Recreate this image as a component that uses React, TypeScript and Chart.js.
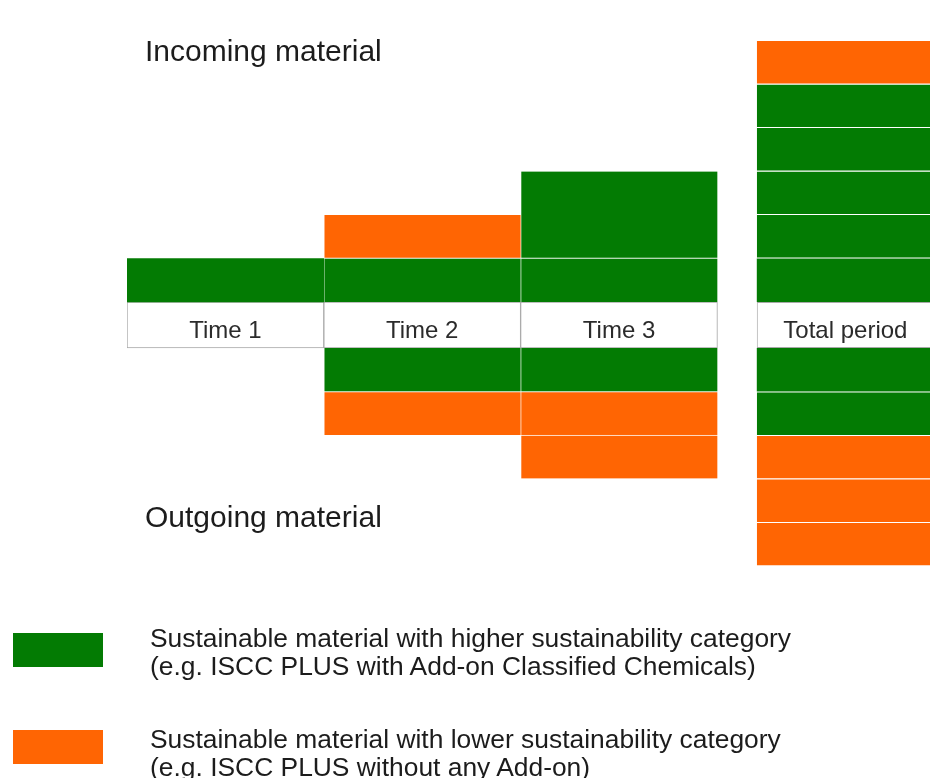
import React, { useEffect, useRef } from "react";
import { Chart, registerables } from "chart.js";

Chart.register(...registerables);

// ---- data ----
const categories = ["Time 1", "Time 2", "Time 3", "Total period"];
// incoming blocks per column, in units, stacked bottom -> top
const incomingUnits = [[1], [1, 1], [1, 2], [1, 1, 1, 1, 1, 1]];
const incomingKinds = [
  ["higher"],
  ["higher", "lower"],
  ["higher", "higher"],
  ["higher", "higher", "higher", "higher", "higher", "lower"],
];
// outgoing blocks per column, in units, stacked top -> bottom
const outgoingUnits = [[], [1, 1], [1, 1, 1], [1, 1, 1, 1, 1]];
const outgoingKinds = [
  [],
  ["higher", "lower"],
  ["higher", "lower", "lower"],
  ["higher", "higher", "lower", "lower", "lower"],
];
const sectionTitles = ["Incoming material", "Outgoing material"];
const legendKinds = ["higher", "lower"];
const legendLines = [
  [
    "Sustainable material with higher sustainability category",
    "(e.g. ISCC PLUS with Add-on Classified Chemicals)",
  ],
  [
    "Sustainable material with lower sustainability category",
    "(e.g. ISCC PLUS without any Add-on)",
  ],
];

// ---- styles / layout ----
const COLORS: Record<string, string> = {
  higher: "#037b03",
  lower: "#ff6503",
  band: "#ffffff",
};
const BAND = 1.057; // height of the label band, in units
const TOTAL_GAP = 0.15; // extra gap before the "Total period" column
const FONT = '"Liberation Sans", Arial, Helvetica, sans-serif';
const colX = (i: number) => i + 1 + (i === categories.length - 1 ? TOTAL_GAP : 0);

type Block = { x: number; y: [number, number]; kind: string; k: number; col: number; out: boolean };

function buildColumn(i: number): Block[] {
  const x = colX(i);
  const pts: Block[] = [{ x, y: [-BAND, 0], kind: "band", k: 0, col: i, out: false }];
  let base = 0;
  incomingUnits[i].forEach((u, k) => {
    pts.push({ x, y: [base, base + u], kind: incomingKinds[i][k], k, col: i, out: false });
    base += u;
  });
  let top = -BAND;
  outgoingUnits[i].forEach((u, k) => {
    pts.push({ x, y: [top - u, top], kind: outgoingKinds[i][k], k, col: i, out: true });
    top -= u;
  });
  return pts;
}

const bandLabels = {
  id: "bandLabels",
  afterDatasetsDraw(chart: any) {
    const { ctx, scales } = chart;
    const xs = scales.x;
    const ys = scales.y;
    ctx.save();
    ctx.font = `24px ${FONT}`;
    ctx.fillStyle = "#2b2b2b";
    ctx.textAlign = "center";
    ctx.textBaseline = "alphabetic";
    categories.forEach((c, i) => {
      ctx.fillText(c, xs.getPixelForValue(colX(i)), ys.getPixelForValue(-BAND) - 10);
    });
    ctx.restore();
  },
};

export default function App() {
  const ref = useRef<HTMLCanvasElement | null>(null);

  useEffect(() => {
    if (!ref.current) return;
    const datasets = categories.map((c, i) => ({
      label: c,
      data: buildColumn(i),
      grouped: false,
      barPercentage: i === categories.length - 1 ? 0.9 : 1,
      categoryPercentage: 1,
      borderSkipped: false,
      backgroundColor: (ctx: any) => COLORS[ctx.raw?.kind] || "#fff",
      borderColor: (ctx: any) =>
        ctx.raw?.kind === "band" ? "#a8a8a8" : "rgba(255,255,255,0.32)",
      borderWidth: (ctx: any) => {
        const r = ctx.raw as Block | undefined;
        if (!r) return 0;
        if (r.kind === "band") return 1;
        const left = r.col === 1 || r.col === 2 ? 1 : 0;
        return {
          top: r.out && r.k > 0 ? 1 : 0,
          bottom: !r.out && r.k > 0 ? 1 : 0,
          left,
          right: 0,
        };
      },
    }));

    const chart = new Chart(ref.current, {
      type: "bar",
      data: { datasets: datasets as any },
      options: {
        animation: false,
        responsive: false,
        devicePixelRatio: 1,
        layout: { padding: { left: 127, right: 0, top: 0, bottom: 0 } },
        scales: {
          x: {
            type: "linear",
            min: 0.5,
            max: 4.58,
            offset: false,
            display: false,
            afterBuildTicks: (s: any) => {
              s.ticks = categories.map((_, i) => ({ value: colX(i) }));
            },
          },
          y: { type: "linear", min: -10.943, max: 6.943, display: false },
        },
        plugins: { legend: { display: false }, tooltip: { enabled: false } },
      },
      plugins: [bandLabels],
    });
    return () => chart.destroy();
  }, []);

  const titleTops = [35.6, 501.6];
  const legendTops = [623.5, 724.5];
  const swatchTops = [633, 730];

  return (
    <div
      style={{
        position: "absolute",
        left: 0,
        top: 0,
        width: 930,
        height: 778,
        overflow: "hidden",
        background: "#ffffff",
        fontFamily: FONT,
        color: "#1c1c1c",
      }}
    >
      <canvas
        ref={ref}
        width={930}
        height={778}
        style={{ position: "absolute", left: 0, top: 0, width: 930, height: 778 }}
      />
      {sectionTitles.map((t, i) => (
        <div
          key={t}
          style={{
            position: "absolute",
            left: 145,
            top: titleTops[i],
            fontSize: 30,
            lineHeight: "30px",
            whiteSpace: "nowrap",
          }}
        >
          {t}
        </div>
      ))}
      {legendKinds.map((k, i) => (
        <React.Fragment key={k}>
          <div
            style={{
              position: "absolute",
              left: 13,
              top: swatchTops[i],
              width: 90,
              height: 34,
              background: COLORS[k],
            }}
          />
          <div
            style={{
              position: "absolute",
              left: 150,
              top: legendTops[i],
              fontSize: 26.4,
              lineHeight: "28px",
              whiteSpace: "nowrap",
            }}
          >
            {legendLines[i].map((l) => (
              <div key={l}>{l}</div>
            ))}
          </div>
        </React.Fragment>
      ))}
    </div>
  );
}
